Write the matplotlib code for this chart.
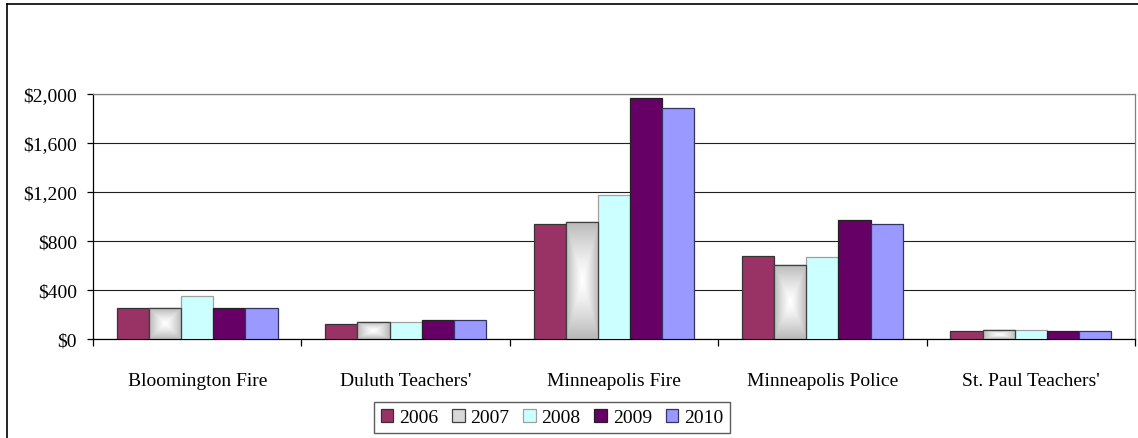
import matplotlib
matplotlib.use('Agg')
import matplotlib.pyplot as plt
import numpy as np
from matplotlib.patches import Patch
from matplotlib.lines import Line2D
from matplotlib.ticker import FuncFormatter

plt.rcParams['font.family'] = ['Liberation Serif', 'DejaVu Serif']

# data
funds = ["Bloomington Fire", "Duluth Teachers'", "Minneapolis Fire",
         "Minneapolis Police", "St. Paul Teachers'"]
years = ["2006", "2007", "2008", "2009", "2010"]
v2006 = [250, 122, 939, 680, 62]
v2007 = [250, 136, 958, 607, 73]
v2008 = [354, 136, 1176, 672, 70]
v2009 = [256, 152, 1970, 969, 62]
v2010 = [250, 152, 1888, 941, 62]
series = [v2006, v2007, v2008, v2009, v2010]

colors = ['#993366', '#d8d8d8', '#ccffff', '#660066', '#9999ff']
edges = ['#333333', '#404040', '#a0a0a0', '#222222', '#333366']

fig = plt.figure(figsize=(11.38, 4.39), dpi=100)
ax = fig.add_axes([93 / 1138, 1 - 340 / 439, (1135 - 93) / 1138, (340 - 95) / 439])

x = np.arange(len(funds))
bw = 0.1545
offs = (np.arange(len(years)) - 2) * bw

# gradient used for the 2007 bars (white centre, grey rim)
gy, gx = np.mgrid[-1:1:200j, -1:1:60j]
grad = np.maximum(np.abs(gx), np.abs(gy)) ** 1.3
gcmap = matplotlib.colors.LinearSegmentedColormap.from_list('g', ['#ffffff', '#b8b8b8'])

for i, vals in enumerate(series):
    bars = ax.bar(x + offs[i], vals, width=bw, color=colors[i], edgecolor=edges[i],
                  linewidth=0.9, zorder=3)
    if i == 1:
        for b in bars:
            x0, w, h = b.get_x(), b.get_width(), b.get_height()
            im = ax.imshow(grad, cmap=gcmap, extent=(x0, x0 + w, 0, h), aspect='auto',
                           origin='lower', zorder=3.5)
            im.set_clip_path(b)
            ax.bar(x0 + w / 2, h, width=w, fill=False, edgecolor=edges[i],
                   linewidth=0.9, zorder=4)

ax.set_xlim(-0.5, len(funds) - 0.5)
ax.set_ylim(0, 2000)
ax.set_yticks(np.arange(0, 2001, 400))
ax.yaxis.set_major_formatter(FuncFormatter(lambda v, p: '${:,.0f}'.format(v)))
ax.grid(axis='y', color='#202020', linewidth=0.8, zorder=0)
ax.set_axisbelow(True)

ax.set_xticks(x)
ax.set_xticklabels(funds)
ax.set_xticks(np.arange(-0.5, len(funds), 1), minor=True)
ax.tick_params(axis='x', which='major', length=0, pad=24, labelsize=14)
ax.tick_params(axis='x', which='minor', length=5, width=0.9, direction='out')
ax.tick_params(axis='y', length=4.5, width=0.9, pad=7, labelsize=14)

ax.spines['left'].set_color('black')
ax.spines['bottom'].set_color('black')
ax.spines['right'].set_color('#808080')
ax.spines['top'].set_color('#808080')
for s in ax.spines.values():
    s.set_linewidth(0.9)

handles = [Patch(facecolor=colors[i], edgecolor=edges[i], linewidth=0.9) for i in range(len(years))]
leg = fig.legend(handles, years, loc='center', bbox_to_anchor=(552 / 1138, 1 - 418.5 / 439),
                 ncol=5, fontsize=14, frameon=True, fancybox=False, handlelength=0.65,
                 handleheight=0.65, handletextpad=0.3, columnspacing=0.7,
                 borderpad=0.35, borderaxespad=0)
leg.get_frame().set_edgecolor('#333333')
leg.get_frame().set_linewidth(1.0)

# outer chart border (left and top only visible)
fig.add_artist(Line2D([7 / 1138, 7 / 1138], [0, 1 - 5 / 439], color='black', lw=1.2,
                      transform=fig.transFigure))
fig.add_artist(Line2D([7 / 1138, 1], [1 - 5 / 439, 1 - 5 / 439], color='black', lw=1.2,
                      transform=fig.transFigure))

fig.savefig('out.png', dpi=100)
